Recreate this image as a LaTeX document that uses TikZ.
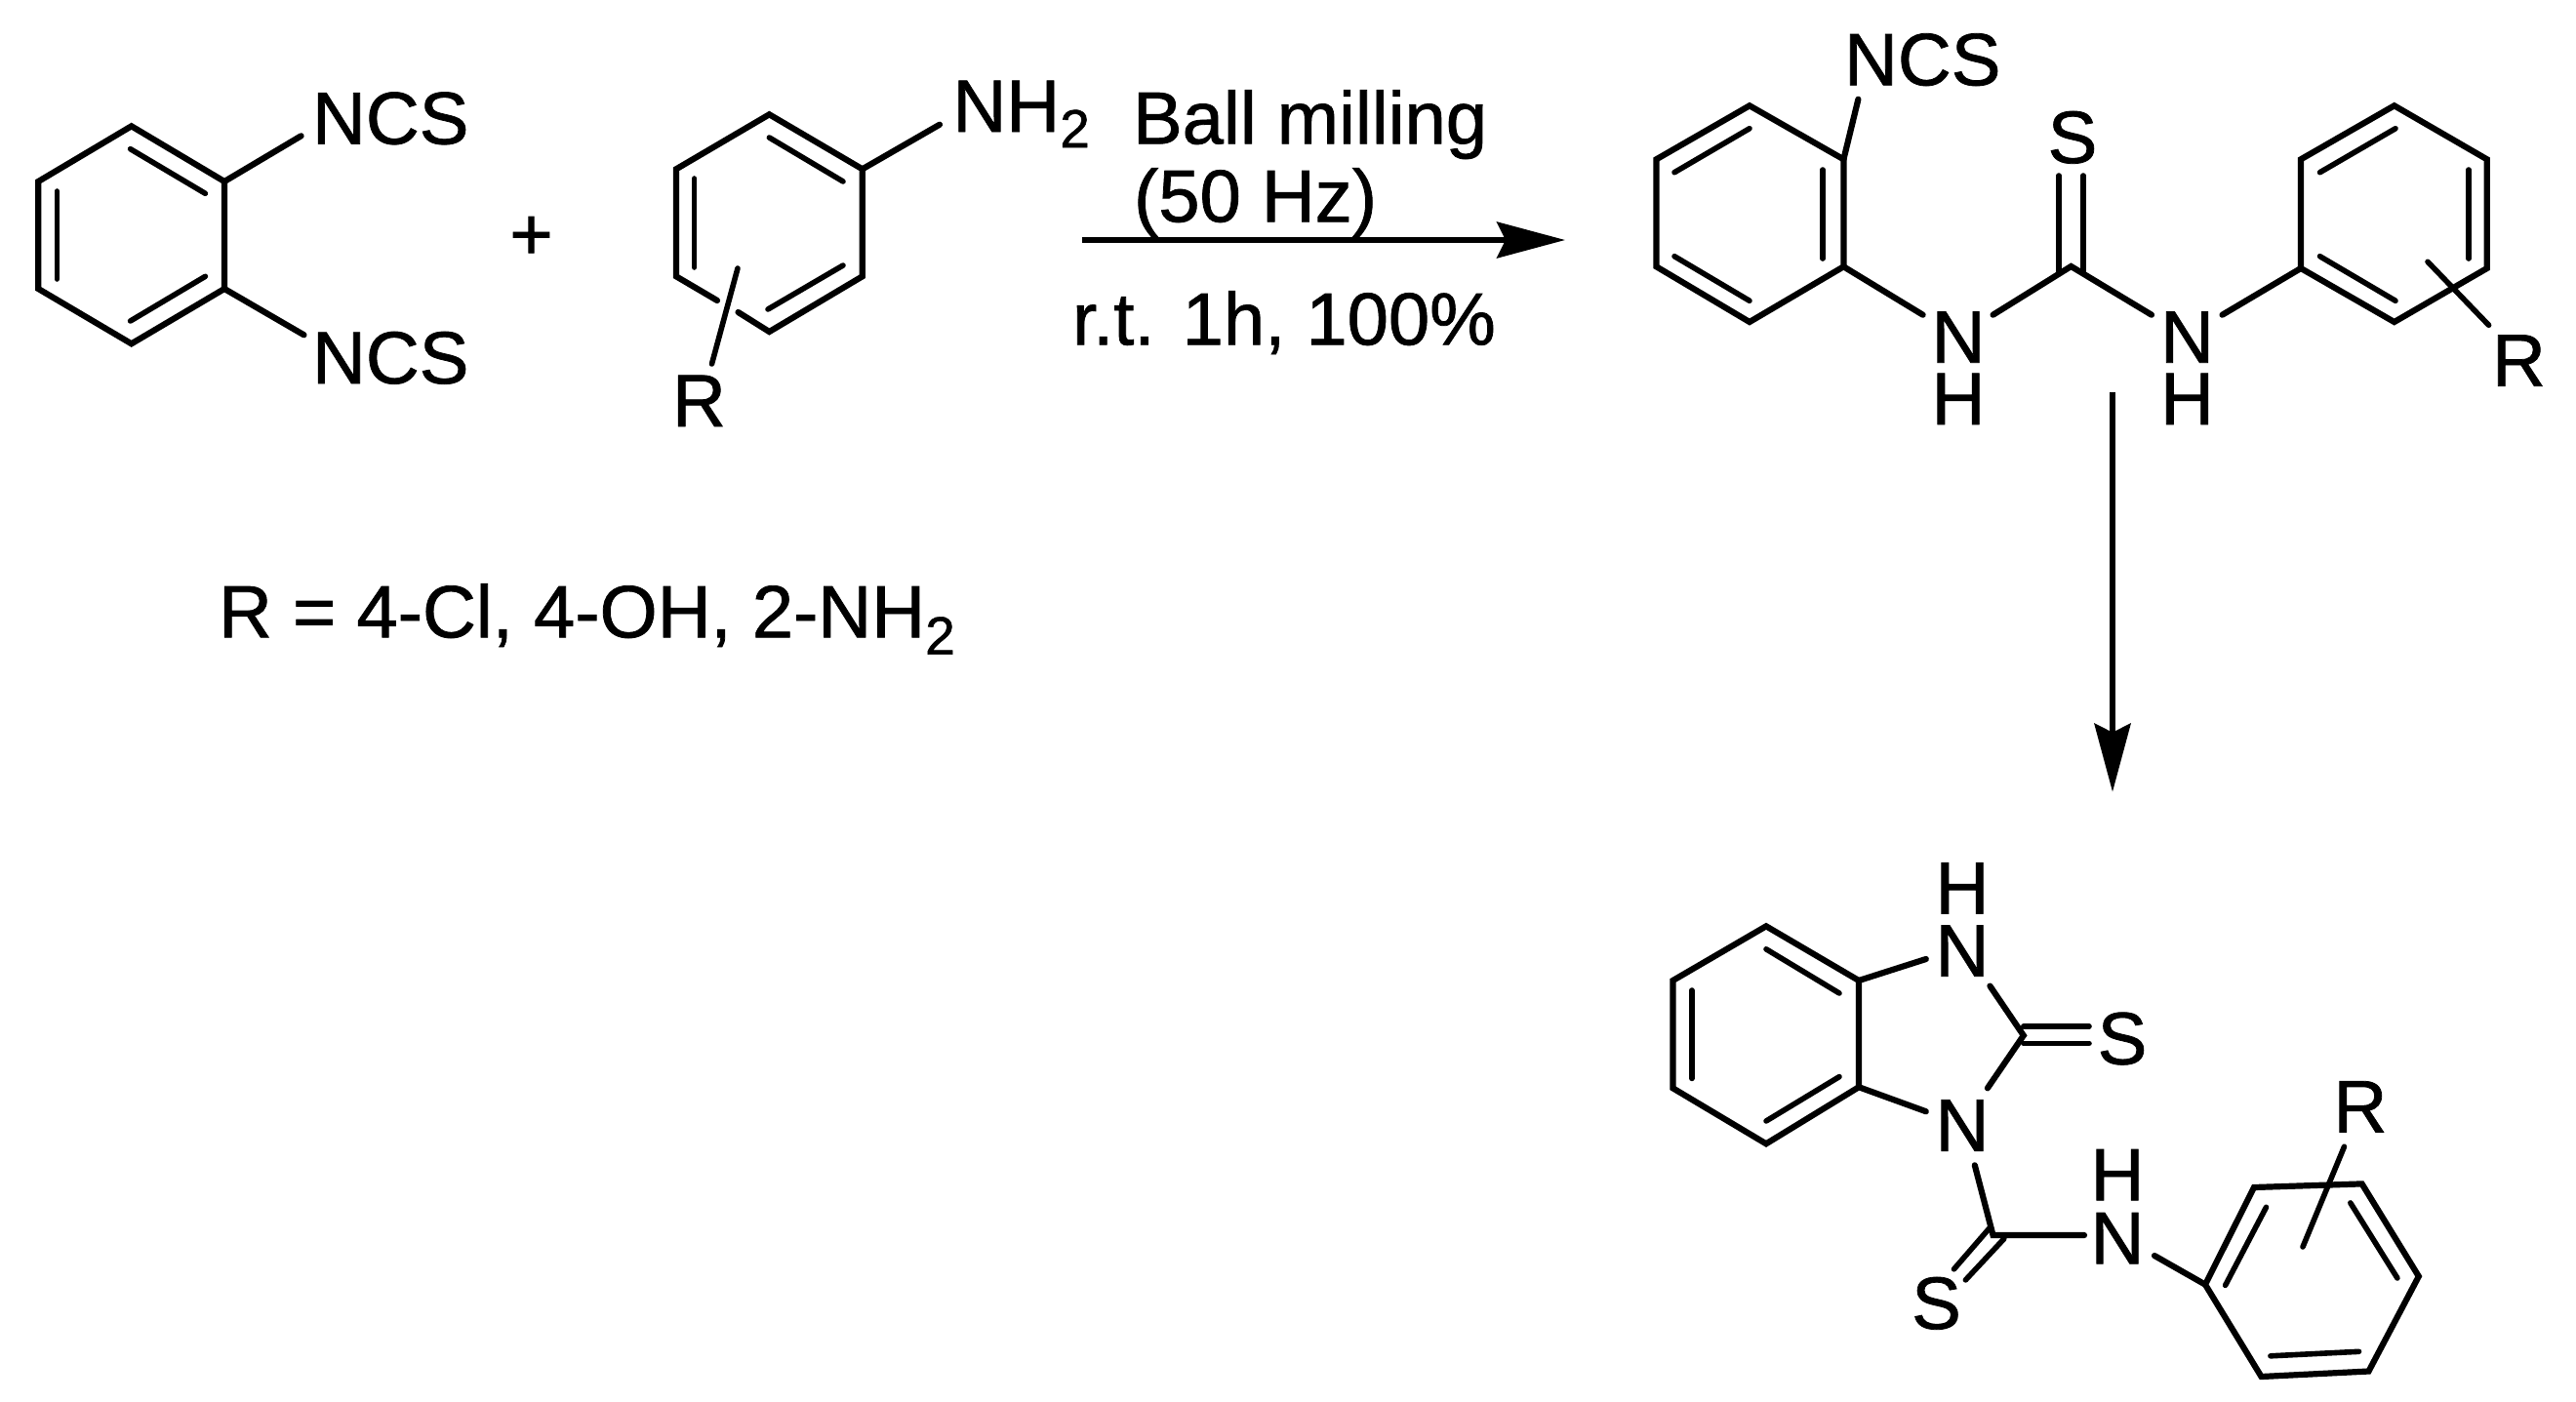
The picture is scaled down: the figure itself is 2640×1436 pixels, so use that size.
\documentclass[tikz,border=0pt]{standalone}
\usepackage{fontspec}
\setmainfont[FakeBold=1.0]{Liberation Sans}
\usetikzlibrary{arrows.meta}
\tikzset{
  lbl/.style={inner sep=0pt,outer sep=0pt,anchor=base west,font=\fontsize{76}{76}\selectfont,text=black},
  atom/.style={inner sep=0pt,outer sep=0pt,anchor=base,font=\fontsize{76}{76}\selectfont,text=black},
  bond/.style={line width=6.2pt,line join=miter,line cap=round,black},
  inbond/.style={line width=5.6pt,line cap=round,black},
  rxn/.style={line width=5.4pt,black,-{Stealth[length=70pt,width=37pt,inset=9pt]}}
}
\newcommand{\subtwo}{\raisebox{-16pt}{\fontsize{55}{55}\selectfont 2}}
\begin{document}
\begin{tikzpicture}[x=1pt,y=-1pt]
\path[use as bounding box] (0,0) rectangle (2640,1436);
% --- ring A
\coordinate (a1) at (134.7,129.3); \coordinate (a2) at (230,186); \coordinate (a3) at (230,296);
\coordinate (a4) at (134.7,352.3); \coordinate (a5) at (39.3,296); \coordinate (a6) at (39.3,186);
\draw[bond] (a1)--(a2)--(a3)--(a4)--(a5)--(a6)--cycle;
\coordinate (ai1) at (133.6,152.7); \coordinate (ai2) at (210.4,198.3);
\coordinate (ai3) at (210.4,283.3); \coordinate (ai4) at (133.6,329);
\coordinate (ai5) at (58.4,196); \coordinate (ai6) at (58.4,286);
\draw[inbond] (ai1)--(ai2); \draw[inbond] (ai3)--(ai4); \draw[inbond] (ai5)--(ai6);
\node[lbl] (ncsA) at (320,147.5) {NCS};
\node[lbl] (ncsB) at (320,393) {NCS};
\coordinate (ae1) at (308.6,139.3); \coordinate (ae2) at (311.5,343.3);
\draw[bond] (a2)--(ae1); \draw[bond] (a3)--(ae2);
\node[atom,anchor=center] (plus) at (544.5,244) {+};
% --- ring B
\coordinate (b1) at (788.4,117.3); \coordinate (b2) at (883.8,173.3); \coordinate (b3) at (883.8,283.3);
\coordinate (b4) at (788.4,340); \coordinate (b5) at (693,283.3); \coordinate (b6) at (693,173.3);
\coordinate (bg1) at (735,308); \coordinate (bg2) at (756.5,320);
\draw[bond] (bg2)--(b4)--(b3)--(b2)--(b1)--(b6)--(b5)--(bg1);
\coordinate (bi1) at (711.6,183); \coordinate (bi2) at (711.6,274);
\coordinate (bi3) at (788.4,141); \coordinate (bi4) at (864,186);
\coordinate (bi5) at (864,272); \coordinate (bi6) at (787,317);
\draw[inbond] (bi1)--(bi2); \draw[inbond] (bi3)--(bi4); \draw[inbond] (bi5)--(bi6);
\coordinate (br1) at (756,275); \coordinate (br2) at (729.5,373);
\draw[inbond] (br1)--(br2);
\node[lbl] (rB) at (689,437) {R};
\node[lbl] (nh2) at (976.5,135) {NH\subtwo};
\coordinate (be1) at (963,127.7);
\draw[bond] (b2)--(be1);
% --- reaction arrow and conditions
\coordinate (ar1) at (1108.6,246); \coordinate (ar2) at (1604,246);
\draw[rxn] (ar1)--(ar2);
\node[lbl] (cond1) at (1161,147.3) {Ball milling};
\node[lbl] (cond2) at (1162,227.3) {(50 Hz)};
\node[lbl] (cond3) at (1099,353.3) {r.t. 1h, 100\%};
\node[lbl] (rdef) at (224,653.3) {R = 4-Cl, 4-OH, 2-NH\raisebox{-17.4pt}{\fontsize{55}{55}\selectfont 2}};
% --- compound 2, ring C
\coordinate (c1) at (1793,108.3); \coordinate (c2) at (1889.4,163.3); \coordinate (c3) at (1889.4,273.3);
\coordinate (c4) at (1793,330); \coordinate (c5) at (1697.5,273.3); \coordinate (c6) at (1697.5,163.3);
\draw[bond] (c1)--(c2)--(c3)--(c4)--(c5)--(c6)--cycle;
\coordinate (ci1) at (1716,176.7); \coordinate (ci2) at (1793,131.7);
\coordinate (ci3) at (1868,174); \coordinate (ci4) at (1868,265);
\coordinate (ci5) at (1716,262.7); \coordinate (ci6) at (1793,308.3);
\draw[inbond] (ci1)--(ci2); \draw[inbond] (ci3)--(ci4); \draw[inbond] (ci5)--(ci6);
\node[lbl] (ncsC) at (1890,87.3) {NCS};
\coordinate (ce1) at (1904.4,101.7);
\draw[bond] (c2)--(ce1);
\node[atom] (n1) at (2007,371.7) {N};
\node[atom] (h1) at (2007,435) {H};
\node[atom] (n2) at (2241.5,371.7) {N};
\node[atom] (h2) at (2241.5,435) {H};
\coordinate (cs) at (2122.5,273);
\coordinate (n1l) at (1970.6,322.7); \coordinate (n1r) at (2042.5,322.7);
\coordinate (n2l) at (2205,322.7); \coordinate (n2r) at (2277.5,322.7);
\draw[bond] (c3)--(n1l); \draw[bond] (n1r)--(cs)--(n2l);
\node[atom] (s1) at (2124,167) {S};
\coordinate (s1a) at (2110,180); \coordinate (s1b) at (2110,278);
\coordinate (s1c) at (2135,180); \coordinate (s1d) at (2135,278);
\draw[inbond] (s1a)--(s1b); \draw[inbond] (s1c)--(s1d);
% ring D
\coordinate (d1) at (2453.75,108.3); \coordinate (d2) at (2548.75,163.3); \coordinate (d3) at (2548.75,275);
\coordinate (d4) at (2453.75,330); \coordinate (d5) at (2358,275); \coordinate (d6) at (2358,163.3);
\draw[bond] (d1)--(d2)--(d3)--(d4)--(d5)--(d6)--cycle;
\coordinate (di1) at (2377.5,176.7); \coordinate (di2) at (2455,131.7);
\coordinate (di3) at (2530,174); \coordinate (di4) at (2530,265);
\coordinate (di5) at (2377.5,262.7); \coordinate (di6) at (2455,308.3);
\draw[inbond] (di1)--(di2); \draw[inbond] (di3)--(di4); \draw[inbond] (di5)--(di6);
\draw[bond] (n2r)--(d5);
\coordinate (dr1) at (2488,268.3); \coordinate (dr2) at (2550.6,333.3);
\draw[inbond] (dr1)--(dr2);
\node[lbl] (rD) at (2554,395.7) {R};
% --- second arrow
\coordinate (ar3) at (2165,401.7); \coordinate (ar4) at (2165,811.7);
\draw[rxn,line width=6pt] (ar3)--(ar4);
% --- compound 3, ring E
\coordinate (e1) at (1810,949.3); \coordinate (e2) at (1905,1005); \coordinate (e3) at (1905,1114.2);
\coordinate (e4) at (1810,1172.3); \coordinate (e5) at (1714.4,1115.3); \coordinate (e6) at (1714.4,1005);
\draw[bond] (e1)--(e2)--(e3)--(e4)--(e5)--(e6)--cycle;
\coordinate (ei1) at (1810,972.8); \coordinate (ei2) at (1885,1018);
\coordinate (ei3) at (1733.8,1015); \coordinate (ei4) at (1733.8,1105.4);
\coordinate (ei5) at (1885,1103.6); \coordinate (ei6) at (1810,1149);
\draw[inbond] (ei1)--(ei2); \draw[inbond] (ei3)--(ei4); \draw[inbond] (ei5)--(ei6);
\node[atom] (h3) at (2011,936.4) {H};
\node[atom] (n3) at (2011,1000.7) {N};
\node[atom] (n4) at (2011,1179.6) {N};
\coordinate (n3a) at (1973.8,983); \coordinate (n3b) at (2039.4,1010.6);
\coordinate (n4a) at (1973.8,1139.2); \coordinate (n4b) at (2036.9,1115.3);
\coordinate (c7) at (2073.8,1061.3);
\draw[bond] (e2)--(n3a); \draw[bond] (e3)--(n4a); \draw[bond] (n3b)--(c7)--(n4b);
\coordinate (s2a) at (2073.8,1052); \coordinate (s2b) at (2141,1052);
\coordinate (s2c) at (2073.8,1069.4); \coordinate (s2d) at (2141,1069.4);
\draw[inbond] (s2a)--(s2b); \draw[inbond] (s2c)--(s2d);
\node[atom] (s2) at (2175,1090.7) {S};
\coordinate (n4c) at (2023.8,1194.3); \coordinate (c8) at (2042.5,1266);
\coordinate (n5l) at (2136,1266);
\draw[bond] (n4c)--(c8)--(n5l);
\node[atom] (h5) at (2170,1230.3) {H};
\node[atom] (n5) at (2170,1295.3) {N};
\coordinate (s3a) at (2040,1257.5); \coordinate (s3b) at (2002.5,1300.8);
\coordinate (s3c) at (2053.8,1269.7); \coordinate (s3d) at (2014.4,1311.9);
\draw[inbond] (s3a)--(s3b); \draw[inbond] (s3c)--(s3d);
\node[atom] (s3) at (1984.5,1362) {S};
% ring F
\coordinate (f1) at (2260,1316.6); \coordinate (f2) at (2310,1217); \coordinate (f3) at (2420.6,1213.4);
\coordinate (f4) at (2478.8,1308.2); \coordinate (f5) at (2427.5,1405.5); \coordinate (f6) at (2317.5,1411);
\draw[bond] (f1)--(f2)--(f3)--(f4)--(f5)--(f6)--cycle;
\coordinate (n5r) at (2208,1287);
\draw[bond] (n5r)--(f1);
\coordinate (fi1) at (2322.5,1237.3); \coordinate (fi2) at (2280.6,1317.4);
\coordinate (fi3) at (2408.8,1232.9); \coordinate (fi4) at (2456.9,1310);
\coordinate (fi5) at (2417.5,1385.3); \coordinate (fi6) at (2326.9,1389.8);
\draw[inbond] (fi1)--(fi2); \draw[inbond] (fi3)--(fi4); \draw[inbond] (fi5)--(fi6);
\coordinate (fr1) at (2402.5,1175.2); \coordinate (fr2) at (2360,1278);
\draw[inbond] (fr1)--(fr2);
\node[lbl] (rF) at (2391.5,1160.5) {R};
\end{tikzpicture}
\end{document}
